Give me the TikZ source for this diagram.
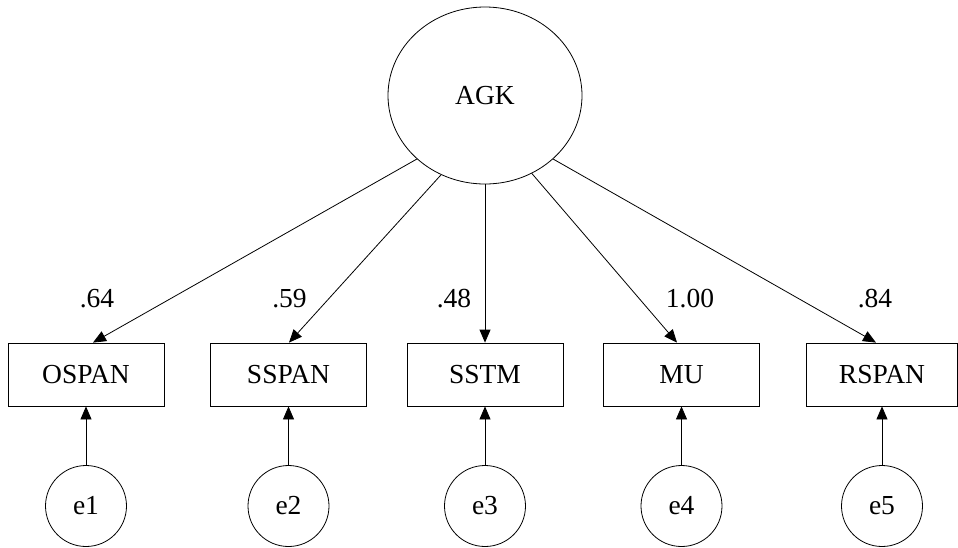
\documentclass[tikz,border=0pt]{standalone}
\usepackage{fontspec}
\setmainfont{Liberation Serif}
\usetikzlibrary{shapes.geometric,arrows.meta}
\begin{document}
\begin{tikzpicture}[x=1pt,y=-1pt,
  every node/.style={font=\fontsize{27.5}{33}\selectfont},
  obs/.style={draw,line width=0.8pt,minimum width=156pt,minimum height=63pt,inner sep=0pt},
  err/.style={draw,circle,line width=0.8pt,minimum size=81pt,inner sep=0pt},
  lat/.style={draw,ellipse,line width=0.8pt,minimum width=194pt,minimum height=177pt,inner sep=0pt},
  conn/.style={line width=0.8pt,-{Triangle[length=13pt,width=11pt]}},
  lbl/.style={inner sep=0pt}
]
\fill[white] (0,0) rectangle (958,547);
\useasboundingbox (0,0) rectangle (958,547);

\node[lat] (agk) at (485,95.5) {AGK};

\node[obs] (ospan) at (86,374.5) {OSPAN};
\node[obs] (sspan) at (288.5,374.5) {SSPAN};
\node[obs] (sstm) at (485,374.5) {SSTM};
\node[obs] (mu) at (681.5,374.5) {MU};
\node[obs,minimum width=151pt] (rspan) at (882,374.5) {RSPAN};

\node[err] (e1) at (86,506) {e1};
\node[err] (e2) at (288.5,506) {e2};
\node[err] (e3) at (485,506) {e3};
\node[err] (e4) at (681.5,506) {e4};
\node[err] (e5) at (882,506) {e5};

\node[lbl] (l1) at (97,299) {.64};
\node[lbl] (l2) at (289.5,299) {.59};
\node[lbl] (l3) at (454,299) {.48};
\node[lbl] (l4) at (690,299) {1.00};
\node[lbl] (l5) at (875,299) {.84};

\draw[conn] (agk.-137) -- ([xshift=7pt]ospan.north);
\draw[conn] (agk.-119.7) -- ([xshift=0.5pt]sspan.north);
\draw[conn] (agk.-90) -- (sstm.north);
\draw[conn] (agk.-59.6) -- ([xshift=-4.5pt]mu.north);
\draw[conn] (agk.-43) -- ([xshift=-6pt]rspan.north);

\draw[conn] (e1.north) -- (ospan.south);
\draw[conn] (e2.north) -- (sspan.south);
\draw[conn] (e3.north) -- (sstm.south);
\draw[conn] (e4.north) -- (mu.south);
\draw[conn] (e5.north) -- (rspan.south);
\end{tikzpicture}
\end{document}
